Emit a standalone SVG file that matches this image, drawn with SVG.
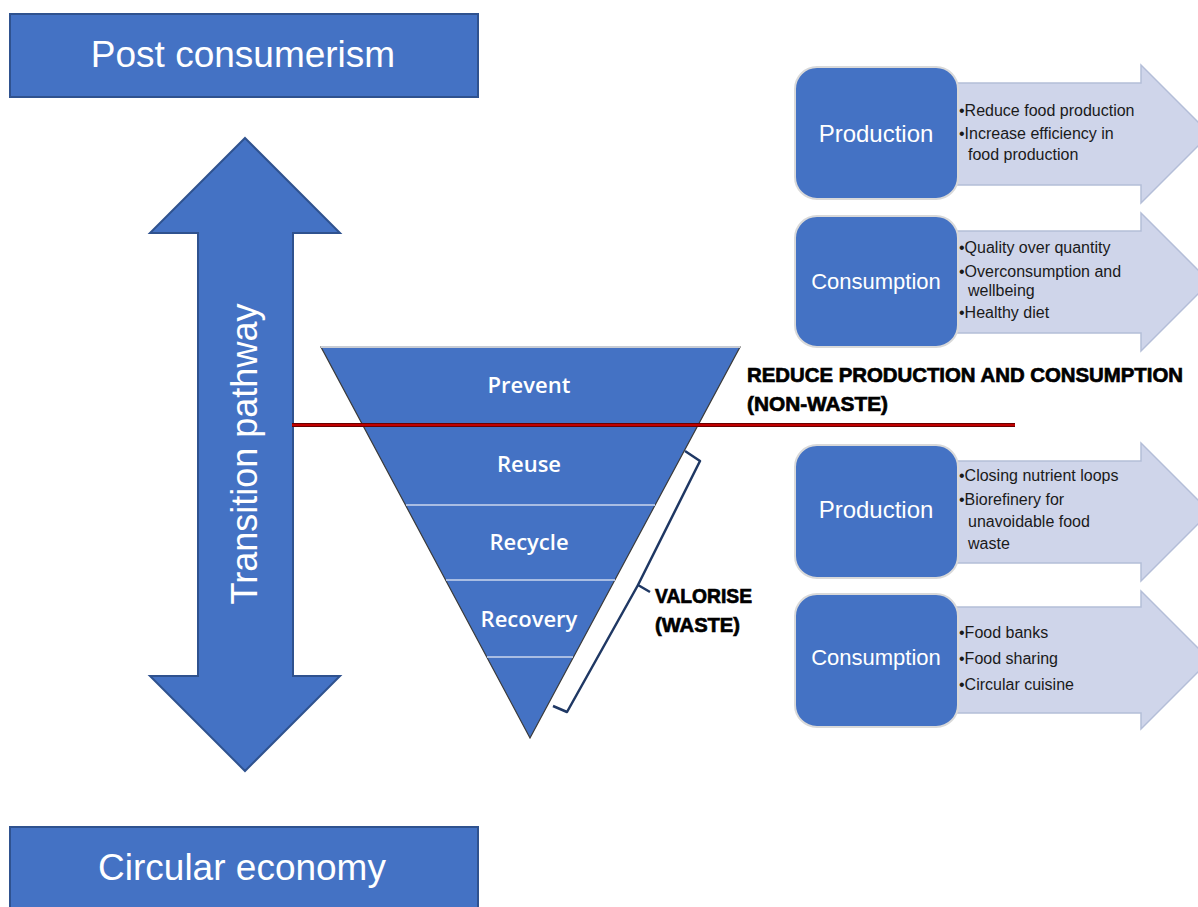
<svg xmlns="http://www.w3.org/2000/svg" width="1198" height="907" viewBox="0 0 1198 907">
<style>
.blue{fill:#4472C4;stroke:#2F528F;stroke-width:2}
.big{font-family:"Liberation Sans",Arial,sans-serif;fill:#fff;text-anchor:middle}
.lbl{font-family:"Open Sans","Liberation Sans",Arial,sans-serif;fill:#fff;text-anchor:middle;font-size:22px;font-weight:600}
.box{fill:#4472C4;stroke:#D9D9D9;stroke-width:2}
.arr{fill:#CFD5EA;stroke:#B4BED8;stroke-width:1.5}
.bul{font-family:"Liberation Sans",Arial,sans-serif;fill:#1a1a1a;font-size:16px}
.head{font-family:"Liberation Sans",Arial,sans-serif;fill:#000;stroke:#000;stroke-width:0.7;font-weight:bold;font-size:21px}
.sep{stroke:#A9BDE3;stroke-width:2}
</style>
<rect width="1198" height="907" fill="#fff"/>
<g id="post-consumerism">
<rect class="blue" x="10" y="14" width="468" height="83"/>
<text class="big" x="243" y="67" font-size="37">Post consumerism</text>
</g>
<g id="circular-economy">
<rect class="blue" x="10" y="827" width="468" height="90"/>
<text class="big" x="242" y="880" font-size="37">Circular economy</text>
</g>
<g id="transition-pathway">
<polygon class="blue" points="245,138 340,233 293,233 293,676 340,676 245,771 150,676 198,676 198,233 150,233"/>
<text class="big" font-size="36" transform="translate(257,454) rotate(-90)">Transition pathway</text>
</g>
<g id="hierarchy">
<polygon points="321,347 740,347 530,738" fill="#4472C4" stroke="#3a3a3a" stroke-width="1.2"/>
<line x1="321" y1="347" x2="740" y2="347" stroke="#C8CCD4" stroke-width="2"/>
<line class="sep" x1="406" y1="505" x2="655" y2="505"/>
<line class="sep" x1="446" y1="580" x2="615" y2="580"/>
<line class="sep" x1="487" y1="657" x2="573" y2="657"/>
<text class="lbl" x="529" y="393">Prevent</text>
<text class="lbl" x="529" y="472">Reuse</text>
<text class="lbl" x="529" y="550">Recycle</text>
<text class="lbl" x="529" y="627">Recovery</text>
</g>
<g id="connectors">
<line x1="292" y1="425" x2="1015" y2="425" stroke="#6B0000" stroke-width="4"/>
<line x1="292" y1="425" x2="1015" y2="425" stroke="#C00000" stroke-width="2"/>
<path d="M685 451 L700 461 L638 585 L650 592 M638 585 L567 712 L553 706" fill="none" stroke="#1F3864" stroke-width="2.5" stroke-linejoin="round"/>
</g>
<g id="reduce-label">
<text class="head" x="747" y="382" textLength="436" lengthAdjust="spacingAndGlyphs">REDUCE PRODUCTION AND CONSUMPTION</text>
<text class="head" x="747" y="411" textLength="141" lengthAdjust="spacingAndGlyphs">(NON-WASTE)</text>
</g>
<g id="valorise-label">
<text class="head" x="655" y="603" textLength="97" lengthAdjust="spacingAndGlyphs">VALORISE</text>
<text class="head" x="655" y="632" textLength="85" lengthAdjust="spacingAndGlyphs">(WASTE)</text>
</g>
<g id="production-1">
<polygon class="arr" points="900,83 1141,83 1141,65 1210,134 1141,203 1141,185 900,185"/>
<rect class="box" x="795" y="67" width="163" height="132" rx="22"/>
<text class="big" x="876" y="142" font-size="24">Production</text>
<text class="bul" x="959" y="116">•Reduce food production</text>
<text class="bul" x="959" y="139">•Increase efficiency in</text>
<text class="bul" x="968" y="160">food production</text>
</g>
<g id="consumption-1">
<polygon class="arr" points="900,231 1141,231 1141,213 1210,282 1141,351 1141,333 900,333"/>
<rect class="box" x="795" y="216" width="163" height="131" rx="22"/>
<text class="big" x="876" y="289" font-size="22">Consumption</text>
<text class="bul" x="959" y="253">•Quality over quantity</text>
<text class="bul" x="959" y="277">•Overconsumption and</text>
<text class="bul" x="968" y="296">wellbeing</text>
<text class="bul" x="959" y="318">•Healthy diet</text>
</g>
<g id="production-2">
<polygon class="arr" points="900,461 1141,461 1141,443 1210,512 1141,581 1141,563 900,563"/>
<rect class="box" x="795" y="445" width="163" height="133" rx="22"/>
<text class="big" x="876" y="518" font-size="24">Production</text>
<text class="bul" x="959" y="481">•Closing nutrient loops</text>
<text class="bul" x="959" y="505">•Biorefinery for</text>
<text class="bul" x="968" y="527">unavoidable food</text>
<text class="bul" x="968" y="549">waste</text>
</g>
<g id="consumption-2">
<polygon class="arr" points="900,607 1141,607 1141,591 1210,660 1141,729 1141,713 900,713"/>
<rect class="box" x="795" y="594" width="163" height="133" rx="22"/>
<text class="big" x="876" y="665" font-size="22">Consumption</text>
<text class="bul" x="959" y="638">•Food banks</text>
<text class="bul" x="959" y="664">•Food sharing</text>
<text class="bul" x="959" y="690">•Circular cuisine</text>
</g>
</svg>
